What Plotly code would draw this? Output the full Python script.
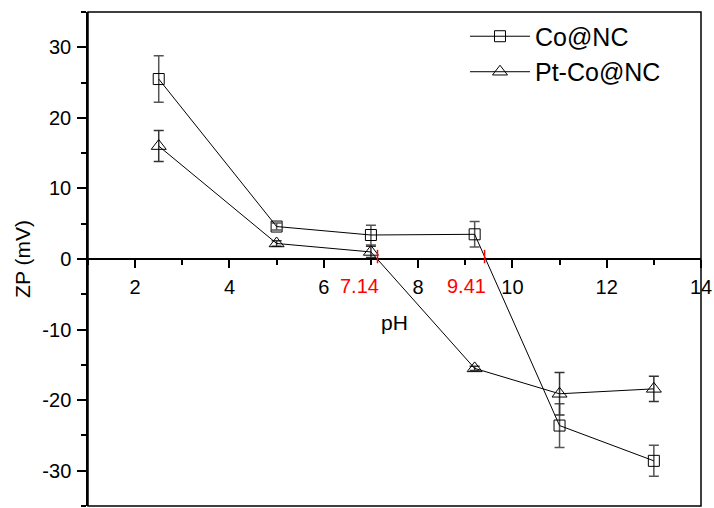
import plotly.graph_objects as go

# Data
ph_co = [2.5, 5.0, 7.0, 9.2, 11.0, 13.0]
zp_co = [25.5, 4.6, 3.4, 3.5, -23.6, -28.6]
err_co = [3.3, 0.5, 1.4, 1.8, 3.1, 2.2]

ph_pt = [2.5, 5.0, 7.0, 9.2, 11.0, 13.0]
zp_pt = [16.0, 2.2, 1.0, -15.5, -19.1, -18.4]
err_pt = [2.2, 0.4, 0.8, 0.3, 3.0, 1.8]

iep_values = [7.14, 9.41]
iep_labels = ["7.14", "9.41"]

x_ticks = [2, 4, 6, 8, 10, 12, 14]
y_ticks = [-30, -20, -10, 0, 10, 20, 30]

FONT = "Arial, Liberation Sans, sans-serif"

fig = go.Figure()
fig.add_trace(go.Scatter(
    x=ph_co, y=zp_co, name="Co@NC", mode="lines+markers",
    line=dict(color="black", width=1),
    marker=dict(symbol="square-open", size=11, color="black", line=dict(width=1)),
    error_y=dict(type="data", array=err_co, visible=True, color="#555555", thickness=1.5, width=5),
    legendgroup="a",
))
fig.add_trace(go.Scatter(
    x=ph_pt, y=zp_pt, name="Pt-Co@NC", mode="lines+markers",
    line=dict(color="black", width=1),
    marker=dict(symbol="triangle-up-open", size=13, color="black", line=dict(width=1)),
    error_y=dict(type="data", array=err_pt, visible=True, color="#333333", thickness=1.5, width=5),
    legendgroup="b",
))

shapes = [dict(type="rect", xref="paper", yref="paper", x0=0, x1=1, y0=0, y1=1,
               line=dict(color="black", width=1.5), fillcolor="rgba(0,0,0,0)", layer="above")]
annotations = []
for v, lab in zip(iep_values, iep_labels):
    shapes.append(dict(type="line", xref="x", yref="y", x0=v, x1=v, y0=-0.6, y1=1.3,
                       line=dict(color="red", width=1.5), layer="above"))
    annotations.append(dict(x=v, y=-3.8, xref="x", yref="y", text=lab, showarrow=False,
                            xanchor="right", yanchor="middle", xshift=3,
                            font=dict(family=FONT, size=20, color="red")))
annotations.append(dict(x=7.49, y=-9.0, xref="x", yref="y", text="pH", showarrow=False,
                        xanchor="center", yanchor="middle",
                        font=dict(family=FONT, size=21, color="black")))

fig.update_layout(
    width=714, height=508,
    margin=dict(l=88, r=11, t=12, b=2),
    paper_bgcolor="white", plot_bgcolor="white",
    font=dict(family=FONT, size=20, color="black"),
    showlegend=True,
    legend=dict(x=0.615, y=0.997, xanchor="left", yanchor="top", bgcolor="rgba(0,0,0,0)",
                font=dict(family=FONT, size=25), itemwidth=60, tracegroupgap=0,
                traceorder="grouped"),
    shapes=shapes,
    annotations=annotations,
    xaxis=dict(range=[1, 14], tickvals=x_ticks, ticktext=[str(t) for t in x_ticks],
               anchor="free", position=0.5, showline=True, linecolor="black", linewidth=1.5,
               ticks="outside", ticklen=8, tickwidth=1.5, tickcolor="black",
               minor=dict(dtick=1, tick0=1, ticks="outside", ticklen=5, tickwidth=1.5, tickcolor="black"),
               showgrid=False, zeroline=False, ticklabelstandoff=2, ticklabeloverflow="allow",
               tickfont=dict(family=FONT, size=20)),
    yaxis=dict(range=[-35, 35], tickvals=y_ticks, ticktext=[str(t) for t in y_ticks],
               showline=True, linecolor="black", linewidth=1.5,
               ticks="outside", ticklen=9, tickwidth=1.5, tickcolor="black",
               minor=dict(dtick=5, tick0=0, ticks="outside", ticklen=5, tickwidth=1.5, tickcolor="black"),
               showgrid=False, zeroline=False, ticklabelstandoff=2,
               title=dict(text="ZP (mV)", font=dict(family=FONT, size=21), standoff=6),
               tickfont=dict(family=FONT, size=20)),
)

fig.write_html("out.html")
